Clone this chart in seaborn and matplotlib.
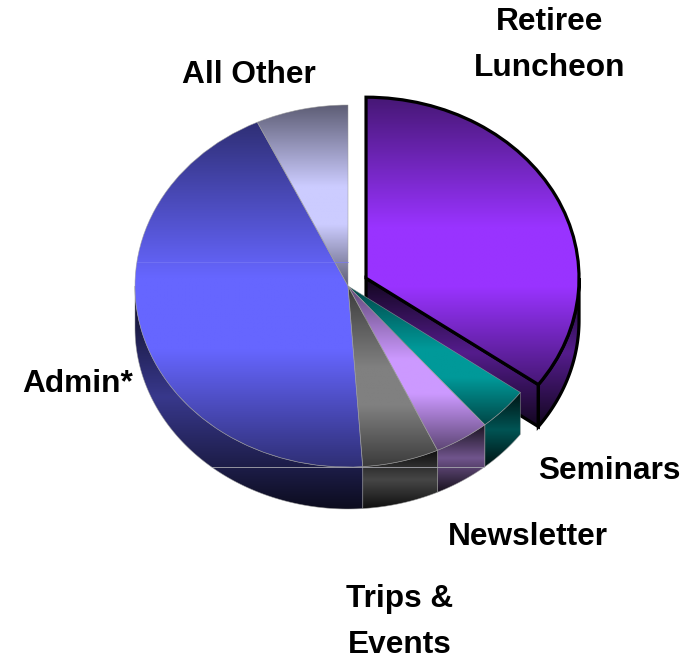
import numpy as np
import matplotlib
matplotlib.use('Agg')
import matplotlib.pyplot as plt
from matplotlib.colors import LinearSegmentedColormap
from matplotlib.patches import Polygon
import seaborn as sns

slice_names = ['Retiree\nLuncheon', 'Seminars', 'Newsletter', 'Trips &\nEvents', 'Admin*', 'All Other']
slice_values = [35.0, 3.9, 4.2, 5.8, 44.1, 7.0]
slice_explode = [0.095, 0, 0, 0, 0, 0]
slice_colors = ['#9933ff', '#009999', '#cc99ff', '#808080', '#6666ff', '#ccccff']
# label centres, in pixels of the 691x660 picture
label_x = [550, 609, 528, 400, 78, 249]
label_y = [45, 471, 537, 622, 384, 75]

W, H = 691, 660
CX, CY, RX, RY = 348, 286, 213, 181
DEPTH = 42 / RY

sns.set_theme(style='white')
plt.rcParams['font.family'] = ['Liberation Sans', 'DejaVu Sans']

fig = plt.figure(figsize=(W / 100, H / 100), dpi=100)
ax = fig.add_axes([0, 0, 1, 1])
wedges, _ = ax.pie(slice_values, explode=slice_explode, startangle=90,
                   counterclock=False, radius=1, normalize=True)
ax.set_aspect('auto')
xlim = (-CX / RX, (W - CX) / RX)
ylim = ((CY - H) / RY, CY / RY)


def shade(color, k):
    return tuple(c * k for c in matplotlib.colors.to_rgb(color))


def fill(patch, stops, z):
    # axial gradient over the bounding box of the patch, clipped to it
    box = patch.get_path().get_extents()
    cmap = LinearSegmentedColormap.from_list('band', stops)
    grad = np.linspace(0, 1, 256).reshape(-1, 1)
    im = ax.imshow(grad, cmap=cmap, vmin=0, vmax=1, aspect='auto', zorder=z,
                   extent=(box.x0, box.x1, box.y0, box.y1), origin='lower',
                   interpolation='bilinear')
    im.set_clip_path(patch)


def side_stops(color):
    return [(0, shade(color, 0.12)), (0.5, shade(color, 0.55)), (1, shade(color, 0.12))]


def top_stops(color):
    low = shade(color, 0.46)
    return [(0, low), (0.34, color), (0.55, color), (1, low)]


for i, (w, color) in enumerate(zip(wedges, slice_colors)):
    exploded = slice_explode[i] > 0
    edge = 'black' if exploded else (0.6, 0.6, 0.6, 0.7)
    lw = 2.3 if exploded else 0.5
    z = 1 + 0.1 * i

    # outer side wall, only the front half of the rim shows
    t0, t1 = max(w.theta1, -180), min(w.theta2, 0)
    cx, cy = w.center
    if t1 > t0:
        t = np.radians(np.linspace(t0, t1, 120))
        x, y = cx + np.cos(t), cy + np.sin(t)
        pts = np.r_[np.c_[x, y], np.c_[x, y - DEPTH][::-1]]
        wall = Polygon(pts, closed=True, facecolor='none', edgecolor=edge,
                       linewidth=lw, zorder=z + 0.05)
        ax.add_patch(wall)
        fill(wall, side_stops(color), z)

    # cut face of the pulled out slice
    if exploded:
        t = np.radians(w.theta1)
        ex, ey = cx + np.cos(t), cy + np.sin(t)
        cut = Polygon([(cx, cy), (ex, ey), (ex, ey - DEPTH), (cx, cy - DEPTH)],
                      closed=True, facecolor='none', edgecolor='black',
                      linewidth=lw, zorder=z + 0.05)
        ax.add_patch(cut)
        fill(cut, side_stops(color), z)

    # top face
    w.set_facecolor('none')
    w.set_edgecolor(edge)
    w.set_linewidth(lw)
    w.set_zorder(3 + 0.1 * i)
    fill(w, top_stops(color), 2 + 0.1 * i)

# thin light seams across the shading bands
upper = (CY - 262) / RY
ax.plot([-np.sqrt(1 - upper ** 2), 0], [upper, upper], color='#7878f4', lw=0.5, zorder=4)
lower = -1.0
span = np.sqrt(1 - (lower + DEPTH) ** 2)
ax.plot([-span, span], [lower, lower], color='#a8a8b0', lw=0.6, zorder=4)

ax.set_xlim(xlim)
ax.set_ylim(ylim)
ax.axis('off')

for name, x, y in zip(slice_names, label_x, label_y):
    ax.text(x / W, 1 - y / H, name, transform=ax.transAxes, ha='center', va='center',
            fontsize=22.8, fontweight='bold', color='black', linespacing=1.72, zorder=6)

fig.savefig('out.png', dpi=100, facecolor='white')
